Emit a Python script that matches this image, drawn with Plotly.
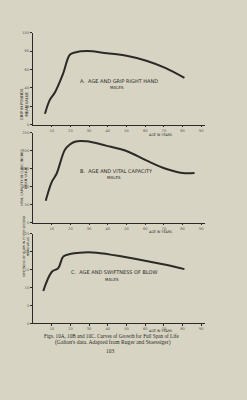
import plotly.graph_objects as go

W, H = 247, 400
PAPER = "#d7d4c3"
INK = "#2b2a26"
FAINT = "#5a5850"

# ---- data ----
ages_a = [6.4, 9, 11.7, 16, 19.7, 22.4, 29, 39.5, 50, 60.6, 71, 81]
grip = [12, 27, 35, 55, 76, 78.5, 80, 77.7, 75, 69.6, 61.6, 51]

ages_b = [6.8, 10, 12.6, 17, 19.7, 22.4, 28.6, 39, 50, 60.6, 71, 80, 86.4]
vital = [61, 113, 136, 202, 217, 225, 226, 214, 199, 173, 150, 138, 138]

ages_c = [5.5, 10, 13.5, 16.2, 19.7, 25, 34, 50, 60.6, 71, 81]
blow = [9.0, 14.3, 15.4, 18.6, 19.3, 19.7, 19.7, 18.4, 17.4, 16.3, 15.1]

x_ticks = [10, 20, 30, 40, 50, 60, 70, 80, 90]
x_ticktext = ["10", "20", "30", "40", "50", "60", "70", "80", "90"]
ya_ticks = [0, 20, 40, 60, 80, 100]
yb_ticks = [0, 50, 100, 150, 200, 250]
yc_ticks = [0, 5, 10, 15, 20, 25]

panel_titles = ["A.  AGE AND GRIP RIGHT HAND", "B.  AGE AND VITAL CAPACITY", "C.  AGE AND SWIFTNESS OF BLOW"]
y_titles = ["GRIP IN POUNDS<br>MEAN VALUE",
            "VITAL CAPACITY IN CUBIC INCHES<br>MEAN VALUE",
            "SWIFTNESS OF BLOW IN FT PER SECOND<br>MEAN VALUE"]
caption1 = "Figs. 10A, 10B and 10C. Curves of Growth for Full Span of Life"
caption2 = "(Galton's data. Adapted from Ruger and Stoessiger)"
page_no = "103"


def px_x(p):
    return p / W


def px_y(p):
    return 1 - p / H


fig = go.Figure()
series = [(ages_a, grip, "x", "y"), (ages_b, vital, "x2", "y2"), (ages_c, blow, "x3", "y3")]
for xs, ys, xa, ya in series:
    fig.add_trace(go.Scatter(x=xs, y=ys, xaxis=xa, yaxis=ya, mode="lines",
                             line=dict(color=INK, width=2, shape="spline", smoothing=1.0),
                             hoverinfo="skip", showlegend=False))

xdom = [px_x(33), px_x(205)]
# (pixel of zero line, pixel of top tick)
ydoms = [(124, 31), (223, 132), (324.5, 234)]
yranges = [[0, 100], [0, 250], [0, 25]]
yticks = [ya_ticks, yb_ticks, yc_ticks]

axis_common = dict(showgrid=False, zeroline=False, showline=True, linecolor=INK, linewidth=1.2,
                   ticks="outside", tickcolor=INK,
                   tickfont=dict(size=3.6, color=FAINT, family="DejaVu Sans"))
layout = {}
for i in range(3):
    sx = "xaxis" if i == 0 else f"xaxis{i+1}"
    sy = "yaxis" if i == 0 else f"yaxis{i+1}"
    anchor_y = "y" if i == 0 else f"y{i+1}"
    anchor_x = "x" if i == 0 else f"x{i+1}"
    z, t = ydoms[i]
    layout[sx] = dict(domain=xdom, range=[0, 92], anchor=anchor_y, tickvals=x_ticks,
                      ticktext=x_ticktext, ticklen=1.5, ticklabelstandoff=0, **axis_common)
    layout[sy] = dict(domain=[px_y(z), px_y(t)], range=yranges[i], anchor=anchor_x,
                      tickvals=yticks[i], ticklen=2, **axis_common)

fig.update_layout(width=W, height=H, margin=dict(l=0, r=0, t=0, b=0),
                  paper_bgcolor=PAPER, plot_bgcolor=PAPER, **layout)

ann = []
hand = dict(family="DejaVu Sans", color=INK)
# panel titles and "MALES"
title_pos = [(119, 75), (116, 171), (114, 278)]
for (cx, cy), txt in zip(title_pos, panel_titles):
    ann.append(dict(x=px_x(cx), y=px_y(cy), xref="paper", yref="paper", text=txt,
                    showarrow=False, font=dict(size=5, **hand)))
    ann.append(dict(x=px_x(cx - 2), y=px_y(cy + 6.5), xref="paper", yref="paper", text="MALES",
                    showarrow=False, font=dict(size=4, **hand)))
# x axis titles
for py in [131, 232, 335.6]:
    ann.append(dict(x=px_x(160), y=px_y(py), xref="paper", yref="paper", text="AGE IN YEARS",
                    showarrow=False, borderpad=0, font=dict(size=3.3, **hand)))
# y axis titles (rotated)
ytitle_pos = [(17, 85, 3.8), (18, 178, 3.4), (20, 280, 3.0)]
for (cx, cy, fs), txt in zip(ytitle_pos, y_titles):
    ann.append(dict(x=px_x(cx), y=px_y(cy), xref="paper", yref="paper", text=txt,
                    showarrow=False, textangle=-90, font=dict(size=fs, **hand)))
# caption
ann.append(dict(x=px_x(111), y=px_y(341), xref="paper", yref="paper", text=caption1,
                showarrow=False, borderpad=0, font=dict(size=5.2, family="Liberation Serif", color=INK)))
ann.append(dict(x=px_x(113), y=px_y(348.7), xref="paper", yref="paper", text=caption2,
                showarrow=False, borderpad=0, font=dict(size=5.6, family="Liberation Serif", color=INK)))
ann.append(dict(x=px_x(110), y=px_y(356.5), xref="paper", yref="paper", text=page_no,
                showarrow=False, borderpad=0, font=dict(size=5.4, family="Liberation Serif", color=INK)))
fig.update_layout(annotations=ann)

fig.write_html("out.html")
